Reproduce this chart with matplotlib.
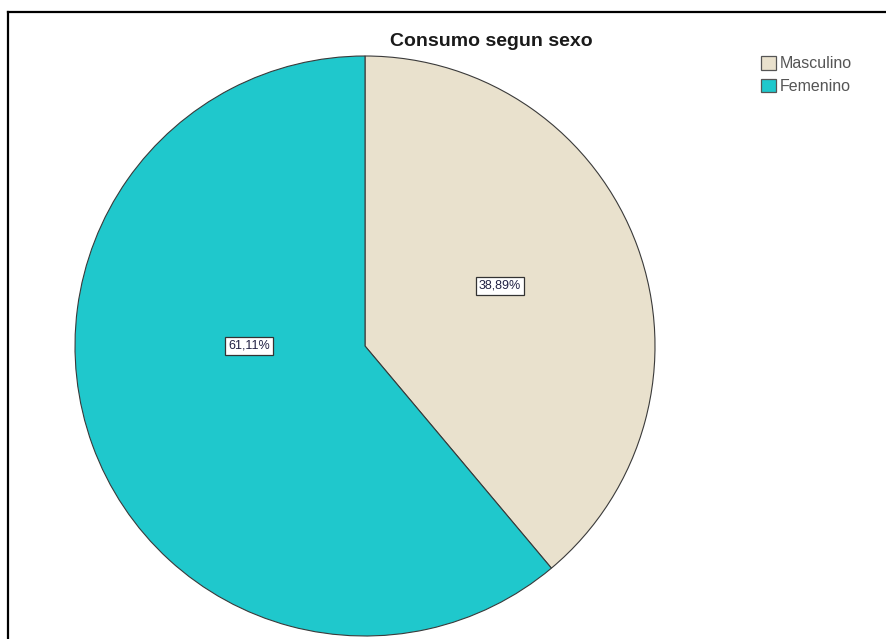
import numpy as np
import matplotlib.pyplot as plt
from matplotlib.lines import Line2D
from matplotlib.patches import Patch

# data
categories = ["Masculino", "Femenino"]
percentages = [38.89, 61.11]
colors = ["#e9e1cd", "#1fc8cc"]

W, H = 886, 639
plt.rcParams["font.family"] = ["Liberation Sans", "DejaVu Sans"]
fig = plt.figure(figsize=(W / 100, H / 100), dpi=100)
ax = fig.add_axes([0, 0, 1, 1])

cx, cy, r = 365, H - 346, 290

# pie, clockwise from 12 o'clock
wedges, texts, autotexts = ax.pie(
    percentages, colors=colors, startangle=90, counterclock=False,
    center=(cx, cy), radius=r, frame=True,
    autopct=lambda p: "{:.2f}%".format(p).replace(".", ","),
    wedgeprops=dict(edgecolor="#3a3a3a", linewidth=0.8),
    textprops=dict(fontsize=9, color="#222244"),
)
ax.set_xlim(0, W)
ax.set_ylim(0, H)
ax.axis("off")

# label placement as SPSS does it (angle in degrees, fraction of radius)
label_place = [(24, 0.51), (180, 0.40)]
for t, (ang, frac) in zip(autotexts, label_place):
    a = np.deg2rad(ang)
    t.set_position((cx + frac * r * np.cos(a), cy + frac * r * np.sin(a)))
    t.set_bbox(dict(facecolor="white", edgecolor="#333333", linewidth=0.9, pad=2))

# title
fig.text(491 / W, 1 - 41 / H, "Consumo segun sexo", ha="center", va="center",
         fontsize=14, fontweight="bold", color="#1a1a1a")

# legend
handles = [Patch(facecolor=c, edgecolor="#555555", linewidth=0.9) for c in colors]
fig.legend(handles, categories, loc="upper left", bbox_to_anchor=(761 / W, 1 - 56 / H),
           frameon=False, fontsize=11.5, labelcolor="#555555", handlelength=0.95,
           handleheight=0.95, handletextpad=0.2, labelspacing=0.45, borderpad=0,
           borderaxespad=0)

# outer frame (left and top only visible)
fig.add_artist(Line2D([8 / W, 8 / W], [0, 1 - 12 / H], color="black", linewidth=1.6))
fig.add_artist(Line2D([8 / W, 1], [1 - 12 / H, 1 - 12 / H], color="black", linewidth=1.6))

fig.savefig("out.png", dpi=100)
